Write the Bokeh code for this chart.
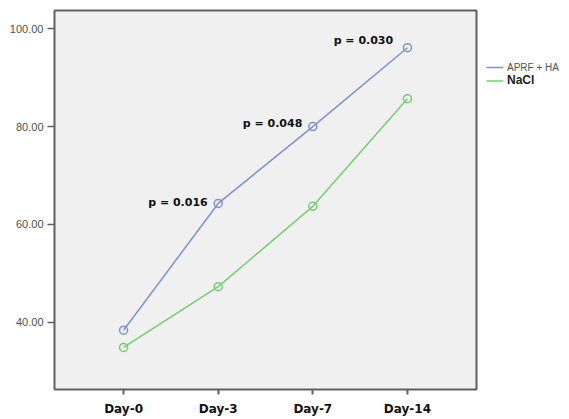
from bokeh.plotting import figure
from bokeh.models import Range1d, FixedTicker, Legend, LegendItem, Label
from bokeh.layouts import row
from bokeh.embed import file_html
from bokeh.resources import INLINE

days = ["Day-0", "Day-3", "Day-7", "Day-14"]
aprf_ha = [38.4, 64.3, 80.0, 96.1]
nacl = [34.9, 47.3, 63.7, 85.7]
p_labels = ["p = 0.016", "p = 0.048", "p = 0.030"]
p_x = [0.26, 1.26, 2.22]
p_y = [64.5, 80.6, 97.6]
y_ticks = [40, 60, 80, 100]
series_names = ["APRF + HA", "NaCl"]

xs = list(range(len(days)))
blue = "#8090d0"
green = "#72d072"

H = 418

p = figure(width=478, height=H, output_backend="svg", toolbar_location=None,
           x_range=Range1d(-0.73, 3.73), y_range=Range1d(26.3, 103.7))
p.min_border_left = 54
p.min_border_right = 2
p.min_border_top = 10
p.min_border_bottom = 26
p.background_fill_color = "#f0f0f0"
p.border_fill_color = "white"
p.outline_line_color = "#606060"
p.outline_line_width = 2
p.xgrid.visible = False
p.ygrid.visible = False

p.line(xs, aprf_ha, line_color=blue, line_width=1.5)
p.scatter(xs, aprf_ha, size=8, fill_color=None, line_color=blue, line_width=1.5)
p.line(xs, nacl, line_color=green, line_width=1.5)
p.scatter(xs, nacl, size=8, fill_color=None, line_color=green, line_width=1.5)

for lx, ly, t in zip(p_x, p_y, p_labels):
    p.add_layout(Label(x=lx, y=ly, text=t, text_font="DejaVu Sans",
                       text_font_style="bold", text_font_size="11px",
                       text_color="#111111", text_baseline="middle"))

p.xaxis.ticker = FixedTicker(ticks=xs)
p.xaxis.major_label_overrides = {i: d for i, d in enumerate(days)}
p.xaxis.major_label_text_font = "DejaVu Sans"
p.xaxis.major_label_text_font_style = "bold"
p.xaxis.major_label_text_font_size = "12px"
p.xaxis.major_label_text_color = "#111111"
p.xaxis.major_label_standoff = 7
p.xaxis.axis_line_color = None
p.xaxis.major_tick_in = 0
p.xaxis.major_tick_out = 5
p.xaxis.major_tick_line_color = "#606060"
p.xaxis.major_tick_line_width = 2
p.xaxis.minor_tick_line_color = None

p.yaxis.ticker = FixedTicker(ticks=y_ticks)
p.yaxis.major_label_overrides = {v: f"{v:.2f}" for v in y_ticks}
p.yaxis.major_label_text_font = "Liberation Sans"
p.yaxis.major_label_text_font_size = "11px"
p.yaxis.major_label_text_color = "#505050"
p.yaxis.major_label_standoff = 4
p.yaxis.axis_line_color = None
p.yaxis.major_tick_in = 0
p.yaxis.major_tick_out = 7
p.yaxis.major_tick_line_color = "#606060"
p.yaxis.major_tick_line_width = 1.5
p.yaxis.minor_tick_line_color = None

# legend panel (its own figure; the series lines lie outside its visible range)
q = figure(width=83, height=H, output_backend="svg", toolbar_location=None,
           x_range=Range1d(100, 101), y_range=Range1d(0, 1))
q.min_border_left = 0
q.min_border_right = 0
q.min_border_top = 0
q.min_border_bottom = 0
q.axis.visible = False
q.grid.visible = False
q.outline_line_color = None
q.background_fill_color = "white"
q.border_fill_color = "white"

d1 = q.line(xs, aprf_ha, line_color=blue, line_width=1.5)
d2 = q.line(xs, nacl, line_color=green, line_width=1.5)

leg1 = Legend(items=[LegendItem(label=series_names[0], renderers=[d1])],
              location=(8, 316), padding=0, margin=0, spacing=0,
              glyph_width=17, glyph_height=12, label_standoff=4, label_height=12,
              label_text_font="Liberation Sans", label_text_font_size="10px",
              label_text_color="#555555", border_line_alpha=0,
              background_fill_alpha=0)
leg2 = Legend(items=[LegendItem(label=series_names[1], renderers=[d2])],
              location=(8, 302), padding=0, margin=0, spacing=0,
              glyph_width=17, glyph_height=13, label_standoff=4, label_height=13,
              label_text_font="Liberation Sans", label_text_font_size="12px",
              label_text_font_style="bold",
              label_text_color="#222222", border_line_alpha=0,
              background_fill_alpha=0)
q.add_layout(leg1, "center")
q.add_layout(leg2, "center")

layout = row(p, q, spacing=0)
open("out.html", "w").write(file_html(layout, INLINE))
